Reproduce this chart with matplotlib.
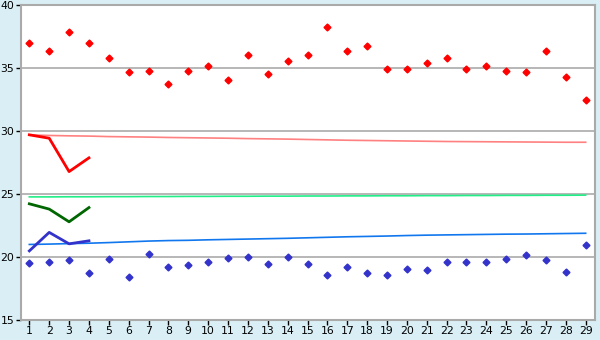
import matplotlib
matplotlib.use("Agg")
import matplotlib.pyplot as plt

days = list(range(1, 30))
max_temp = [37.04, 36.40, 37.91, 37.04, 35.85, 34.74, 34.82, 33.71, 34.82, 35.21,
            34.10, 36.09, 34.58, 35.61, 36.09, 38.31, 36.40, 36.80, 34.97, 34.90,
            35.45, 35.85, 34.97, 35.21, 34.82, 34.74, 36.40, 34.34, 32.44]
min_temp = [19.50, 19.58, 19.74, 18.71, 19.82, 18.39, 20.21, 19.18, 19.34, 19.58,
            19.90, 19.98, 19.42, 19.98, 19.42, 18.55, 19.18, 18.71, 18.55, 19.02,
            18.94, 19.58, 19.58, 19.58, 19.82, 20.13, 19.74, 18.79, 20.93]
normal_max = [29.70, 29.66, 29.63, 29.61, 29.57, 29.55, 29.53, 29.50, 29.48, 29.46,
              29.44, 29.41, 29.39, 29.37, 29.34, 29.31, 29.28, 29.26, 29.24, 29.22,
              29.20, 29.18, 29.17, 29.16, 29.15, 29.14, 29.13, 29.12, 29.12]
normal_mean = [24.78, 24.78, 24.79, 24.79, 24.80, 24.80, 24.81, 24.81, 24.82, 24.82,
               24.83, 24.83, 24.84, 24.84, 24.85, 24.85, 24.86, 24.86, 24.87, 24.87,
               24.88, 24.88, 24.89, 24.89, 24.90, 24.90, 24.91, 24.91, 24.92]
normal_min = [21.00, 21.03, 21.07, 21.10, 21.15, 21.21, 21.27, 21.31, 21.33, 21.37,
              21.40, 21.43, 21.46, 21.49, 21.53, 21.57, 21.61, 21.64, 21.67, 21.71,
              21.74, 21.76, 21.78, 21.80, 21.82, 21.83, 21.85, 21.87, 21.89]
short_days = [1, 2, 3, 4]
avg_max = [29.71, 29.44, 26.79, 27.88]
avg_mean = [24.23, 23.81, 22.80, 23.93]
avg_min = [20.49, 21.96, 21.05, 21.29]
y_ticks = [15, 20, 25, 30, 35, 40]

bg = "#D9EFF5"
fig = plt.figure(figsize=(6, 3.4), dpi=100, facecolor=bg)
ax = fig.add_axes([20.5/600, 1-320/340, (595-20.5)/600, (320-5.3)/340])
ax.set_facecolor("white")

for y in [20, 25, 30, 35]:
    ax.axhline(y, color="#AAAAAA", lw=1.2, zorder=1)

ax.plot(days, normal_max, color="#FF8080", lw=1.2, zorder=2)
ax.plot(days, normal_mean, color="#22EE88", lw=1.2, zorder=2)
ax.plot(days, normal_min, color="#1177EE", lw=1.2, zorder=2)

ax.plot(short_days, avg_max, color="#FF0000", lw=2, zorder=3)
ax.plot(short_days, avg_mean, color="#006600", lw=2, zorder=3)
ax.plot(short_days, avg_min, color="#3333CC", lw=2, zorder=3)

ax.plot(days, max_temp, ls="none", marker="D", ms=3.5, color="#FF0000", zorder=4)
ax.plot(days, min_temp, ls="none", marker="D", ms=3.5, color="#3333CC", zorder=4)

ax.set_xlim(0.555, 29.47)
ax.set_ylim(15, 40)
ax.set_xticks(days)
ax.set_xticklabels([str(d) for d in days])
ax.set_yticks(y_ticks)
ax.set_yticklabels([str(t) for t in y_ticks])
ax.tick_params(axis="both", direction="out", length=3.5, width=1, color="black",
               labelsize=7.8, pad=1)
for s in ax.spines.values():
    s.set_color("#AAAAAA")
    s.set_linewidth(1.5)

fig.savefig("out.png", dpi=100, facecolor=bg)
